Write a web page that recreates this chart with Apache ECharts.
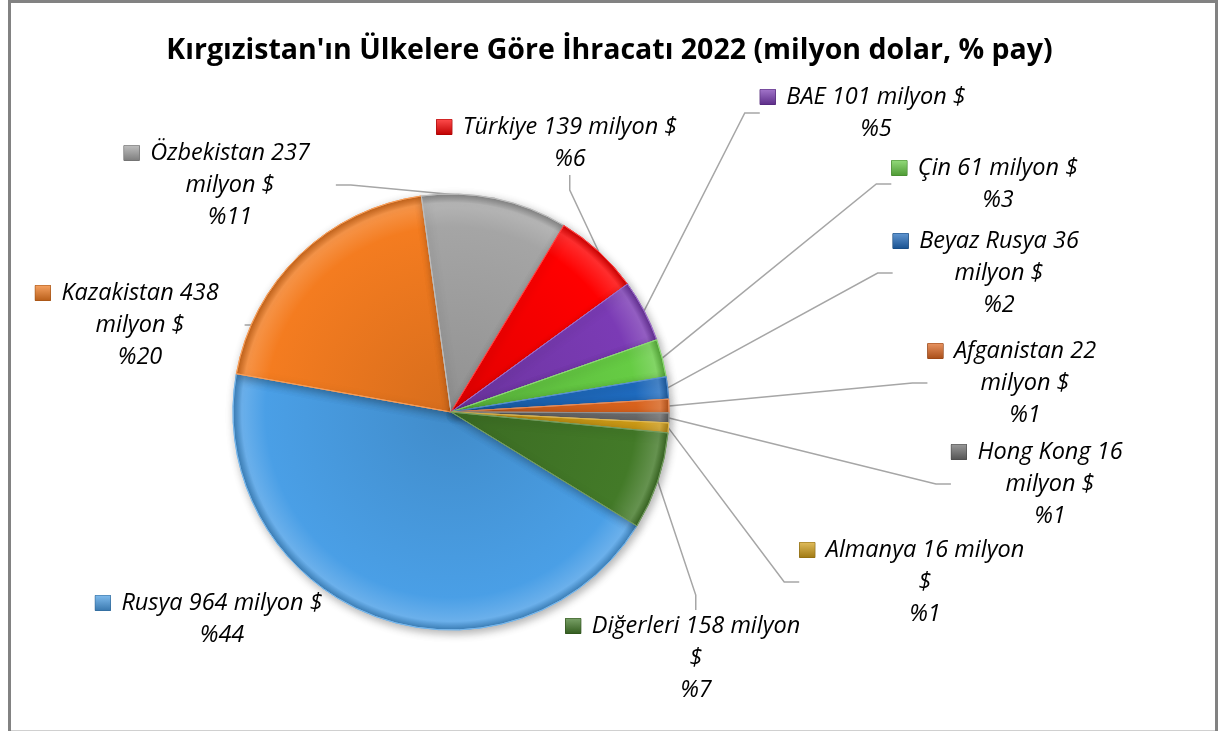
<!DOCTYPE html>
<html>
<head>
<meta charset="utf-8">
<title>Kırgızistan ihracat 2022</title>
<script src="https://cdn.jsdelivr.net/npm/echarts@6/dist/echarts.min.js"></script>
<style>
  html, body { margin: 0; padding: 0; background: #fff; }
  #main { width: 1219px; height: 731px; }
</style>
</head>
<body>
<div id="main"></div>
<script>
// ülkeler ve ihracat değerleri (milyon $)
var countries = ['Rusya', 'Kazakistan', 'Özbekistan', 'Türkiye', 'BAE', 'Çin',
  'Beyaz Rusya', 'Afganistan', 'Hong Kong', 'Almanya', 'Diğerleri'];
var exports2022 = [964, 438, 237, 139, 101, 61, 36, 22, 16, 16, 158];

// dilim renkleri
var sliceColors = ['#4a9fe6', '#f47c20', '#a5a5a5', '#ff0000', '#7b3bb5', '#66cc44',
  '#1f6bbf', '#e0661f', '#6e6e6e', '#d4a017', '#437a28'];

// etiket yerleşimi: metin ortası x, y ve satır kırma şekli
// 0: "ad değer milyon $ / %", 1: "ad değer / milyon $ / %", 2: "ad değer milyon / $ / %"
var labelX = [222, 140, 230, 570, 876, 998, 999, 1025, 1050, 925, 696];
var labelY = [619, 325, 185, 143, 113, 184, 273, 383, 484, 582, 658];
var wrapType = [0, 1, 1, 0, 0, 0, 1, 1, 1, 2, 2];

var FONT = '"Open Sans", Lato, sans-serif';

function shade(hex, f) {
  var n = parseInt(hex.slice(1), 16);
  var r = (n >> 16) & 255, g = (n >> 8) & 255, b = n & 255;
  function c(v) {
    v = f < 0 ? v * (1 + f) : v + (255 - v) * f;
    return Math.max(0, Math.min(255, Math.round(v)));
  }
  return 'rgb(' + c(r) + ',' + c(g) + ',' + c(b) + ')';
}

var pieData = countries.map(function (name, i) {
  var col = sliceColors[i];
  return {
    name: name,
    value: exports2022[i],
    itemStyle: {
      color: {
        type: 'radial', x: 451, y: 412, r: 218, global: true,
        colorStops: [
          { offset: 0, color: shade(col, -0.12) },
          { offset: 0.85, color: col },
          { offset: 0.96, color: shade(col, 0.18) },
          { offset: 1, color: shade(col, -0.2) }
        ]
      },
      borderColor: shade(col, 0.25),
      borderWidth: 1
    },
    // Rusya etiketi dilime yakın, çizgisiz
    labelLine: { show: i !== 0 },
    label: {
      rich: {
        k: {
          width: 15, height: 15,
          backgroundColor: {
            type: 'linear', x: 0, y: 0, x2: 0, y2: 1,
            colorStops: [{ offset: 0, color: shade(col, 0.3) }, { offset: 1, color: shade(col, -0.25) }]
          },
          borderColor: shade(col, -0.35), borderWidth: 0.5
        },
        gap: { width: 11 },
        pad: { width: 26 }
      }
    }
  };
});

var myChart = echarts.init(document.getElementById('main'));

var option = {
  backgroundColor: '#fff',
  title: {
    text: "Kırgızistan'ın Ülkelere Göre İhracatı 2022 (milyon dolar, % pay)",
    left: 'center',
    top: 31,
    textStyle: { fontFamily: FONT, fontWeight: 'bold', fontSize: 28.5, color: '#000' }
  },
  graphic: [
    { type: 'rect', shape: { x: 9.5, y: 1.5, width: 1207, height: 760 }, style: { fill: 'none', stroke: '#828282', lineWidth: 3 }, silent: true },
    { type: 'line', shape: { x1: 11, y1: 730.5, x2: 1215, y2: 730.5 }, style: { stroke: '#d0d0d0', lineWidth: 1 }, silent: true }
  ],
  series: [{
    type: 'pie',
    center: [451, 412],
    radius: 218,
    startAngle: 328.5,
    clockwise: true,
    avoidLabelOverlap: false,
    itemStyle: {
      shadowBlur: 8,
      shadowColor: 'rgba(0,0,0,0.3)',
      shadowOffsetX: 2,
      shadowOffsetY: 3
    },
    label: {
      show: true,
      position: 'outside',
      fontFamily: FONT,
      fontStyle: 'italic',
      fontSize: 23.5,
      lineHeight: 32,
      color: '#000',
      align: 'center',
      formatter: function (p) {
        var head = p.name + ' ' + p.value;
        var pct = '%' + Math.round(p.percent);
        var w = wrapType[p.dataIndex];
        var lines;
        if (w === 0) lines = [head + ' milyon $', pct];
        else if (w === 1) lines = [head, 'milyon $', pct];
        else lines = [head + ' milyon', '$', pct];
        return '{k|}{gap|}' + lines[0] + '{pad|}\n' + lines.slice(1).join('\n');
      }
    },
    labelLine: {
      show: true,
      length: 20,
      length2: 15,
      lineStyle: { color: '#a6a6a6', width: 1.5 }
    },
    labelLayout: function (params) {
      var i = params.dataIndex;
      return { x: labelX[i], y: labelY[i], align: 'center', verticalAlign: 'middle' };
    },
    emphasis: { disabled: true },
    data: pieData
  }]
};

myChart.setOption(option);
</script>
</body>
</html>
